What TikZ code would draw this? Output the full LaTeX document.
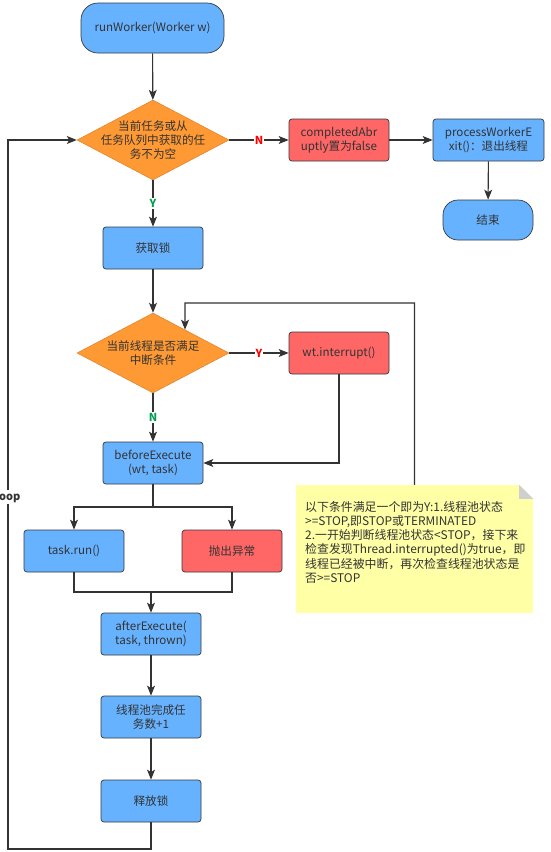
\documentclass[tikz,border=0pt]{standalone}
\usepackage{fontspec}
\setmainfont{Noto Sans CJK SC}
\usetikzlibrary{arrows.meta, shapes.geometric, calc}

\definecolor{boxblue}{HTML}{66B2FF}
\definecolor{boxred}{HTML}{FF6666}
\definecolor{decorange}{HTML}{FF9933}
\definecolor{noteyellow}{HTML}{FFFFA6}
\definecolor{foldgray}{HTML}{CFCFCF}
\definecolor{edgegray}{HTML}{36393D}
\definecolor{linegray}{HTML}{333333}
\definecolor{txtgray}{HTML}{333333}
\definecolor{ygreen}{HTML}{00A050}
\definecolor{nred}{HTML}{FF0000}

\begin{document}
\begin{tikzpicture}[
  x=1pt, y=-1pt,
  every node/.style = {font=\fontsize{11.6}{14}\selectfont, text=txtgray},
  termbox/.style = {rectangle, rounded corners=#1,
                    draw=edgegray, line width=0.7pt, fill=boxblue,
                    align=center},
  procbox/.style = {rectangle, rounded corners=3pt,
                    draw=edgegray, line width=0.7pt, fill=#1,
                    minimum width=100pt, minimum height=42pt,
                    inner sep=2pt, align=center},
  decision/.style = {diamond, draw=decorange!85!black, line width=0.5pt,
                     fill=decorange, inner sep=0pt,
                     minimum width=152pt, minimum height=80pt},
  diatext/.style = {align=center},
  notebox/.style = {rectangle, fill=noteyellow, inner sep=0pt,
                    minimum width=237pt, minimum height=128pt},
  notetext/.style = {align=left, inner sep=0pt,
                     font=\fontsize{11.9}{14.2}\selectfont},
  lbl/.style = {fill=white, inner sep=1pt, text=#1,
                font=\bfseries\fontsize{11}{12}\selectfont},
  looplbl/.style = {fill=white, inner sep=1pt,
                    font=\bfseries\fontsize{11}{12}\selectfont},
  arr/.style = {-{Stealth[length=10pt, width=8pt, inset=2.5pt]},
                line width=1.1pt, draw=linegray},
  line/.style = {line width=1.1pt, draw=linegray},
]
\useasboundingbox (0,0) rectangle (550,852);

%% -- start / first check --------------------------------------------------
\node[termbox=17pt, minimum width=143pt, minimum height=50pt]
  at (152.5, 28) (run) {runWorker(Worker w)};
\node[decision, label={[diatext]center:当前任务或从\\任务队列中获取的任\\务不为空}]
  at (153, 140) (hastask) {};

\node[procbox=boxred] at (339, 140) (abrupt) {completedAbr\\uptly置为false};
\node[procbox=boxblue, minimum width=111pt] at (488.5, 140) (exitw)
  {processWorkerE\\xit()：退出线程};
\node[termbox=15pt, minimum width=90pt, minimum height=40pt]
  at (488, 220) (fin) {结束};

\node[procbox=boxblue] at (153, 248) (lock) {获取锁};

%% -- interrupt check -------------------------------------------------------
\node[decision, label={[diatext]center:当前线程是否满足\\中断条件}]
  at (153, 353) (intchk) {};
\node[procbox=boxred] at (339, 353) (intr) {wt.interrupt()};
\node[procbox=boxblue] at (153, 463) (before) {beforeExecute\\(wt, task)};

%% -- run task --------------------------------------------------------------
\node[procbox=boxblue] at (74, 551) (taskrun) {task.run()};
\node[procbox=boxred] at (232, 551) (throw) {抛出异常};
\node[procbox=boxblue] at (151, 634) (after) {afterExecute(\\task, thrown)};
\node[procbox=boxblue] at (151, 717) (count) {线程池完成任\\务数+1};
\node[procbox=boxblue] at (151, 801) (unlock) {释放锁};

%% -- note ------------------------------------------------------------------
\node[notebox] at (414.5, 549) (note) {};
\fill[white] ($(note.north east)+(-14,0)$) -- (note.north east)
  -- ($(note.north east)+(0,14)$) -- cycle;
\fill[foldgray] ($(note.north east)+(-14,0)$) -- ($(note.north east)+(-14,14)$)
  -- ($(note.north east)+(0,14)$) -- cycle;
\node[notetext, anchor=north west] at (305, 501) (notetxt) {%
  以下条件满足一个即为Y:1.线程池状态\\
  >=STOP,即STOP或TERMINATED\\
  2.一开始判断线程池状态<STOP，接下来\\
  检查发现Thread.interrupted()为true，即\\
  线程已经被中断，再次检查线程池状态是\\
  否>=STOP};

%% -- connectors ------------------------------------------------------------
\draw[arr] (run) -- (hastask);
\draw[arr] (hastask) -- node[lbl=nred] {N} (abrupt);
\draw[arr] (abrupt) -- (exitw);
\draw[arr] (exitw) -- (fin);
\draw[arr] (hastask) -- node[lbl=ygreen] {Y} (lock);
\draw[arr] (lock) -- (intchk);
\draw[arr] (intchk) -- node[lbl=nred] {Y} (intr);
\draw[arr] (intchk) -- node[lbl=ygreen] {N} (before);
\draw[arr] (intr.south) |- (before.east);

% note back up to the interrupt check
\coordinate (intin) at ($(intchk.north)!0.42!(intchk.east)$);
\coordinate (looptop) at (185, 303);
\draw[arr] (note.north) |- (looptop) -- (intin);

% split into run / throw, then merge
\coordinate (split) at (153, 507);
\coordinate (merge) at (151, 592);
\draw[line] (before) -- (split);
\draw[arr] (split) -| (taskrun);
\draw[arr] (split) -| (throw);
\draw[line] (taskrun.south) |- (merge) -| (throw.south);
\draw[arr] (merge) -- (after);
\draw[arr] (after) -- (count);
\draw[arr] (count) -- (unlock);

% loop back to the first check
\coordinate (loopbot) at (8, 849);
\draw[arr] (unlock.south) |- (loopbot) |- (hastask.west);
\node[looplbl] at (8, 497) (looptxt) {loop};

\end{tikzpicture}
\end{document}
